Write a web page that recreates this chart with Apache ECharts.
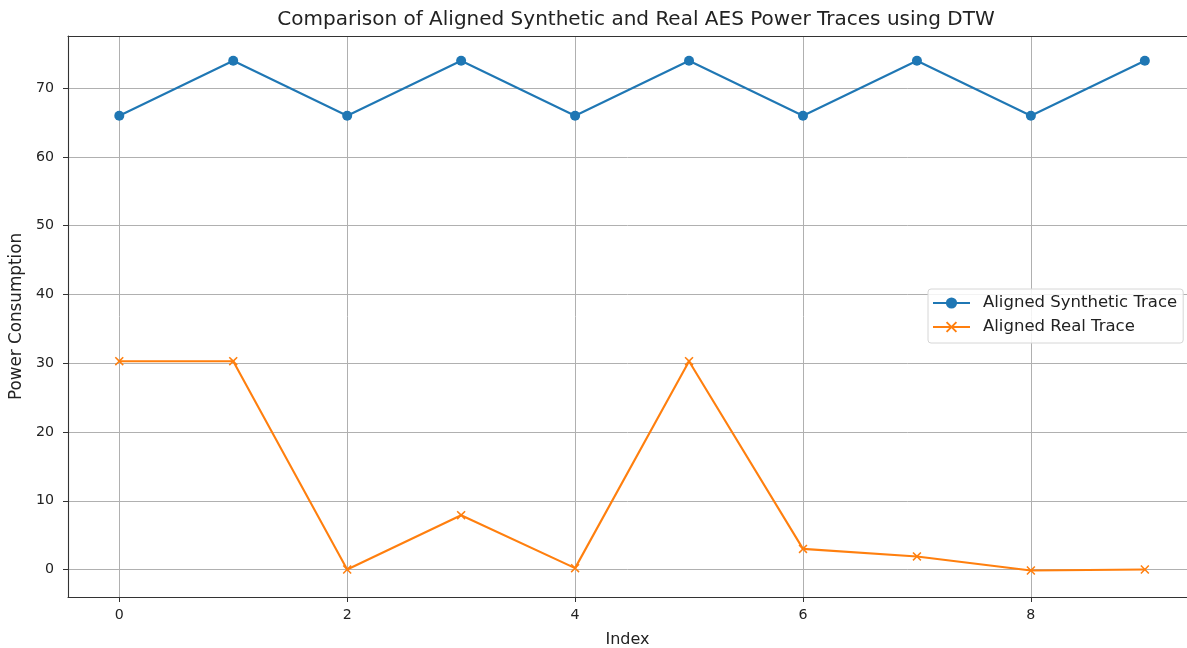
<!DOCTYPE html>
<html>
<head>
<meta charset="utf-8">
<title>Aligned AES Power Traces</title>
<script src="https://cdn.jsdelivr.net/npm/echarts@6/dist/echarts.min.js"></script>
<style>
  html, body { margin: 0; padding: 0; background: #fff; }
  #chart { width: 1187px; height: 648px; }
</style>
</head>
<body>
<div id="chart"></div>
<script>
// Sample index along the DTW alignment path
const indices = [0, 1, 2, 3, 4, 5, 6, 7, 8, 9];
// Aligned synthetic power trace
const syntheticTrace = [66, 74, 66, 74, 66, 74, 66, 74, 66, 74];
// Aligned real power trace
const realTrace = [30.3, 30.3, 0.0, 7.9, 0.2, 30.3, 3.0, 1.9, -0.15, 0.0];
// Tick positions
const xTicks = [0, 2, 4, 6, 8];
const yTicks = [0, 10, 20, 30, 40, 50, 60, 70];

const FONT = "'DejaVu Sans', 'Liberation Sans', sans-serif";
const TEXT = '#222';
const GRID = '#b0b0b0';
const SPINE = '#333';

const pairs = (ys) => indices.map((x, i) => [x, ys[i]]);

// Filled "x" marker shape
const xMarker = 'path://M0,1.2L1.2,0L5,3.8L8.8,0L10,1.2L6.2,5L10,8.8L8.8,10L5,6.2L1.2,10L0,8.8L3.8,5Z';

const chart = echarts.init(document.getElementById('chart'), null, { renderer: 'canvas' });

chart.setOption({
  animation: false,
  backgroundColor: '#fff',
  title: {
    text: 'Comparison of Aligned Synthetic and Real AES Power Traces using DTW',
    left: 631,
    textAlign: 'center',
    top: 5,
    textStyle: { fontFamily: FONT, fontSize: 20, fontWeight: 'normal', color: TEXT }
  },
  legend: {
    orient: 'vertical',
    left: 928,
    top: 289,
    padding: [5, 6, 7, 4],
    itemWidth: 37,
    itemHeight: 14,
    itemGap: 6,
    backgroundColor: 'rgba(255,255,255,0.85)',
    borderColor: '#d6d6d6',
    borderWidth: 1,
    borderRadius: 3,
    textStyle: { fontFamily: FONT, fontSize: 16.5, color: TEXT, lineHeight: 18, padding: [0, 0, 0, 8] },
    data: ['Aligned Synthetic Trace', 'Aligned Real Trace']
  },
  grid: { left: 68, right: 0, top: 36, bottom: 51, containLabel: false, outerBoundsMode: 'none' },
  xAxis: [
    {
      type: 'value',
      min: -0.45,
      max: 9.37,
      name: 'Index',
      nameLocation: 'middle',
      nameGap: 35,
      nameTextStyle: { fontFamily: FONT, fontSize: 16, color: TEXT },
      axisLine: { show: true, onZero: false, lineStyle: { color: SPINE, width: 1.1 } },
      axisTick: { show: true, length: 5, customValues: xTicks, lineStyle: { color: SPINE, width: 1 } },
      axisLabel: { customValues: xTicks, margin: 11, fontFamily: FONT, fontSize: 14.2, color: TEXT },
      splitLine: { show: true, lineStyle: { color: GRID, width: 1 } }
    },
    {
      // top spine of the plot frame
      type: 'value',
      position: 'top',
      min: -0.45,
      max: 9.37,
      axisLine: { show: true, onZero: false, lineStyle: { color: SPINE, width: 1.1 } },
      axisTick: { show: false },
      axisLabel: { show: false },
      splitLine: { show: false }
    }
  ],
  yAxis: {
    type: 'value',
    min: -4.0,
    max: 77.6,
    name: 'Power Consumption',
    nameLocation: 'middle',
    nameGap: 43,
    nameTextStyle: { fontFamily: FONT, fontSize: 16.8, color: TEXT },
    axisLine: { show: true, onZero: false, lineStyle: { color: SPINE, width: 1.1 } },
    axisTick: { show: true, length: 5, customValues: yTicks, lineStyle: { color: SPINE, width: 1 } },
    axisLabel: { customValues: yTicks, margin: 14, fontFamily: FONT, fontSize: 14.2, color: TEXT },
    splitLine: { show: true, lineStyle: { color: GRID, width: 1 } }
  },
  series: [
    {
      name: 'Aligned Synthetic Trace',
      type: 'line',
      data: pairs(syntheticTrace),
      symbol: 'circle',
      symbolSize: 10,
      showAllSymbol: true,
      lineStyle: { color: '#1f77b4', width: 2.1 },
      itemStyle: { color: '#1f77b4' },
      z: 3
    },
    {
      name: 'Aligned Real Trace',
      type: 'line',
      data: pairs(realTrace),
      symbol: xMarker,
      symbolSize: 9,
      showAllSymbol: true,
      lineStyle: { color: '#ff7f0e', width: 2.1 },
      itemStyle: { color: '#ff7f0e' },
      z: 3
    }
  ]
});
</script>
</body>
</html>
